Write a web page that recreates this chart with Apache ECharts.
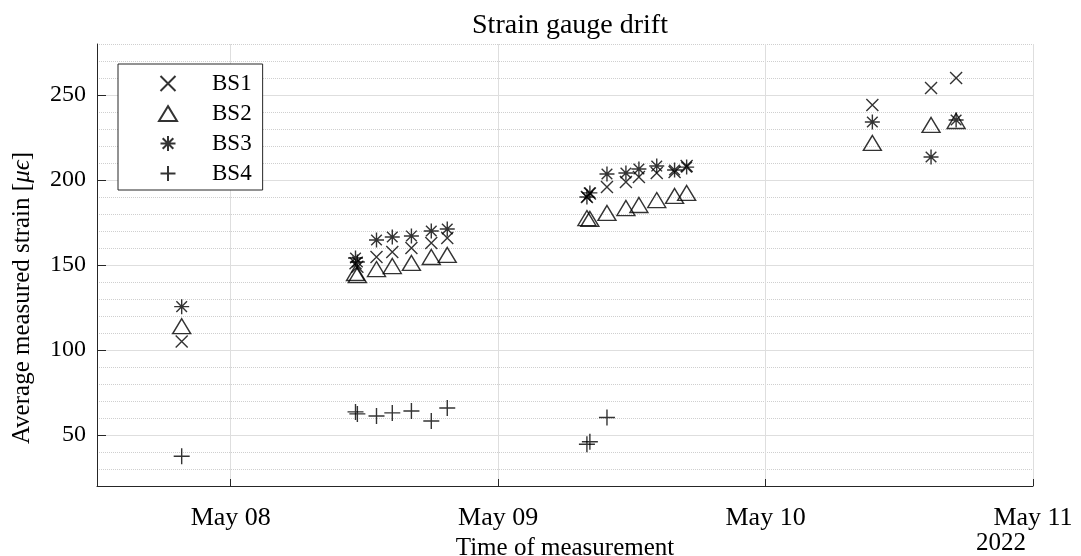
<!DOCTYPE html>
<html>
<head>
<meta charset="utf-8">
<script src="https://cdn.jsdelivr.net/npm/echarts@6/dist/echarts.min.js"></script>
<style>
html,body{margin:0;padding:0;background:#fff;}
#chart{width:1081px;height:556px;}
</style>
</head>
<body>
<div id="chart"></div>
<script>
// ---- data ----
const measTimes = [
  '2022-05-07T19:36', '2022-05-08T11:12', '2022-05-08T11:22', '2022-05-08T13:05',
  '2022-05-08T14:30', '2022-05-08T16:13', '2022-05-08T18:00', '2022-05-08T19:26',
  '2022-05-09T07:58', '2022-05-09T08:14', '2022-05-09T09:46', '2022-05-09T11:28',
  '2022-05-09T12:38', '2022-05-09T14:14', '2022-05-09T15:50', '2022-05-09T16:55',
  '2022-05-10T09:35', '2022-05-10T14:51', '2022-05-10T17:06'
];
const bs1 = [105, 151, 149, 154.7, 157.6, 160, 163, 165.9, 190, 192, 195.9, 198.8, 201.8, 204.1, 204.7, 208.2, 244.1, 254.1, 260];
const bs2 = [114, 145.3, 144.1, 147.6, 149.4, 151.2, 154.7, 155.9, 177.6, 177.1, 180.6, 183.5, 185.3, 188.2, 190.6, 192.4, 221.8, 232.4, 234.7];
const bs3 = [125.5, 154.1, 151.8, 164.7, 166.5, 167.1, 170, 171.2, 190, 192.4, 203.5, 204.1, 206.5, 208.2, 205.9, 207.6, 234.1, 213.5, 235.3];
const bs4 = [37.5, 63.6, 62.4, 61.2, 63.0, 64.1, 58.2, 65.9, 44.6, 46.0, 60.3, null, null, null, null, null, null, null, null];
const seriesNames = ['BS1', 'BS2', 'BS3', 'BS4'];
const yTickValues = [50, 100, 150, 200, 250];
const xMin = '2022-05-07T12:00';
const xMax = '2022-05-11T00:00';
const yearLabel = '2022';

const FONT = 'Liberation Serif';
const symbols = {
  BS1: 'path://M0,0L10,10M10,0L0,10',
  BS2: 'path://M5,0L10,8.2L0,8.2Z',
  BS3: 'path://M5,0L5,10M0,5L10,5M1.46,1.46L8.54,8.54M1.46,8.54L8.54,1.46',
  BS4: 'path://M5,0L5,10M0,5L10,5'
};
const sizes = { BS1: 12, BS2: [18, 15], BS3: 15, BS4: 16 };
const values = { BS1: bs1, BS2: bs2, BS3: bs3, BS4: bs4 };

function toMs(s) { return new Date(s).getTime(); }

const chart = echarts.init(document.getElementById('chart'));
const axisColor = '#262626';

const series = seriesNames.map(n => ({
  name: n,
  type: 'scatter',
  xAxisIndex: 0,
  yAxisIndex: 1,
  symbol: symbols[n],
  symbolSize: sizes[n],
  itemStyle: { color: 'rgba(0,0,0,0)', borderColor: '#000', borderWidth: 1.4 },
  emphasis: { disabled: true },
  data: measTimes.map((t, i) => values[n][i] == null ? null : [toMs(t), values[n][i]]).filter(d => d)
}));

chart.setOption({
  animation: false,
  backgroundColor: '#fff',
  title: {
    text: 'Strain gauge drift',
    left: 565, top: 7, textAlign: 'center',
    textStyle: { fontFamily: FONT, fontSize: 28, fontWeight: 'normal', color: '#000' }
  },
  grid: { left: 97, right: 48, top: 44, bottom: 70, outerBoundsMode: 'none', containLabel: false },
  legend: {
    orient: 'vertical',
    left: 118, top: 64,
    padding: [8, 11, 5, 40],
    itemGap: 7,
    itemWidth: 18, itemHeight: 15,
    borderColor: '#262626', borderWidth: 1,
    backgroundColor: '#fff',
    selectedMode: false,
    textStyle: { fontFamily: FONT, fontSize: 23, color: '#000', padding: [0, 0, 0, 30] },
    data: seriesNames.map(n => ({ name: n, icon: symbols[n] }))
  },
  xAxis: {
    type: 'time',
    min: toMs(xMin), max: toMs(xMax),
    minInterval: 86400000, maxInterval: 86400000,
    name: 'Time of measurement',
    nameLocation: 'middle', nameGap: 43,
    nameTextStyle: { fontFamily: FONT, fontSize: 25, color: '#000' },
    axisLine: { show: true, lineStyle: { color: axisColor, width: 1 } },
    axisTick: { show: true, inside: true, length: 7, lineStyle: { color: axisColor } },
    axisLabel: {
      fontFamily: FONT, fontSize: 26, color: '#000', margin: 19,
      showMinLabel: false, showMaxLabel: true,
      formatter: function (v) {
        const d = new Date(v);
        if (d.getHours() !== 0 || d.getMinutes() !== 0) return '';
        const months = ['Jan','Feb','Mar','Apr','May','Jun','Jul','Aug','Sep','Oct','Nov','Dec'];
        return months[d.getMonth()] + ' ' + String(d.getDate()).padStart(2, '0');
      }
    },
    splitLine: { show: true, lineStyle: { color: '#dedede', width: 1 } }
  },
  yAxis: [
    {
      type: 'value', min: 20, max: 280, interval: 10, position: 'left',
      axisLine: { show: false }, axisTick: { show: false }, axisLabel: { show: false },
      splitLine: { show: true, lineStyle: { color: '#cfcfcf', width: 1, type: [1, 1] } }
    },
    {
      type: 'value', min: 20, max: 280, position: 'left',
      axisLine: { show: true, lineStyle: { color: axisColor, width: 1 } },
      axisTick: { show: true, inside: true, length: 9, customValues: yTickValues, lineStyle: { color: axisColor } },
      axisLabel: { fontFamily: FONT, fontSize: 24, color: '#000', margin: 11, customValues: yTickValues },
      splitLine: { show: true, lineStyle: { color: '#dedede', width: 1 } }
    }
  ],
  graphic: [
    {
      type: 'text', x: 22, y: 298, rotation: Math.PI / 2,
      style: {
        text: '{a|Average measured strain [}{m|μϵ}{a|]}',
        align: 'center', verticalAlign: 'middle',
        rich: {
          a: { fontFamily: FONT, fontSize: 25, fill: '#000' },
          m: { fontFamily: FONT, fontSize: 25, fontStyle: 'italic', fill: '#000' }
        }
      }
    },
    {
      type: 'text', x: 1026, y: 543,
      style: { text: yearLabel, font: '25px "' + FONT + '"', fill: '#000', align: 'right', verticalAlign: 'middle' }
    }
  ],
  series: series
});
</script>
</body>
</html>
